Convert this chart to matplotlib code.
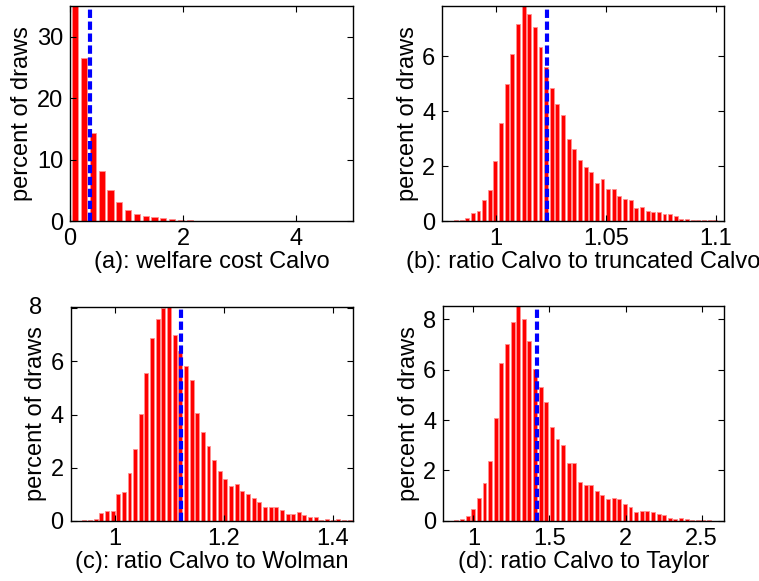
import matplotlib
matplotlib.use('Agg')
import matplotlib.pyplot as plt
import numpy as np

plt.rcParams['font.family'] = ['Liberation Sans', 'DejaVu Sans']
plt.rcParams['lines.scale_dashes'] = False

# (a) welfare cost Calvo: bin range, percent of draws per bin, marker
a_bins = (0.014, 4.85)
a_pct = [35.0, 26.6, 14.4, 8.18, 5.1, 3.09, 1.84, 1.19, 0.87, 0.65, 0.43, 0.38,
         0.22, 0.11, 0.07, 0.05, 0.04, 0.03, 0.02, 0.02, 0.01, 0.01, 0.01, 0.01,
         0.01, 0.01, 0.01, 0.01, 0.01, 0.01, 0.01]
a_mark = 0.36

# (b) ratio Calvo to truncated Calvo
b_bins = (0.9754, 1.1036)
b_pct = [0, 0, 0.02, 0.04, 0.11, 0.30, 0.38, 0.75, 1.13, 2.19, 3.56, 4.98, 6.08,
         7.16, 7.82, 7.53, 7.07, 6.34, 5.6, 4.85, 4.27, 3.87, 2.99, 2.63, 2.22,
         1.98, 1.78, 1.37, 1.53, 1.18, 1.18, 0.92, 0.80, 0.78, 0.47, 0.52, 0.36,
         0.34, 0.33, 0.27, 0.27, 0.18, 0.08, 0.06, 0.04, 0.05, 0.05, 0.02, 0.03, 0.01]
b_mark = 1.0232

# (c) ratio Calvo to Wolman
c_bins = (0.9182, 1.4362)
c_pct = [0, 0.01, 0.02, 0.04, 0.09, 0.30, 0.36, 0.36, 1.02, 1.09, 1.79, 2.72, 4.03,
         5.55, 6.88, 7.6, 8.0, 8.06, 7.0, 6.38, 5.83, 5.3, 4.05, 3.36, 2.83, 2.29,
         1.88, 1.59, 1.33, 1.40, 1.13, 1.02, 0.85, 0.70, 0.51, 0.51, 0.51, 0.40,
         0.28, 0.28, 0.33, 0.21, 0.14, 0.14, 0.05, 0.06, 0.05, 0.06, 0.03, 0.02]
c_mark = 1.1206

# (d) ratio Calvo to Taylor
d_bins = (0.797, 2.641)
d_pct = [0, 0, 0.02, 0.07, 0.21, 0.48, 0.9, 1.49, 2.39, 4.09, 6.24, 7.02, 7.88,
         8.53, 8.0, 7.13, 6.02, 5.31, 4.73, 3.74, 3.26, 3.01, 2.28, 2.28, 1.53,
         1.43, 1.44, 1.17, 1.02, 0.87, 0.91, 0.86, 0.69, 0.55, 0.37, 0.41, 0.40,
         0.37, 0.28, 0.22, 0.11, 0.09, 0.13, 0.07, 0.05, 0.05, 0.04, 0.02, 0.01, 0]
d_mark = 1.421

fig = plt.figure(figsize=(7.59, 5.81), dpi=100)


def panel(rect, bins, pct, mark, xlim, xticks, yticks, xlabel):
    ax = fig.add_axes(rect)
    n = len(pct)
    w = (bins[1] - bins[0]) / n
    centers = bins[0] + w * (np.arange(n) + 0.5)
    ax.bar(centers, pct, width=0.7 * w, color='#ff0000',
           edgecolor='#ff9090', linewidth=0.6)
    ax.axvline(mark, color='#0000ff', lw=3, dashes=(6, 2.6))
    ax.set_xlim(xlim)
    ax.set_ylim(0, max(pct))
    ax.set_xticks(xticks, labels=['%g' % t for t in xticks])
    ax.set_yticks(yticks, labels=['%g' % t for t in yticks])
    ax.tick_params(direction='in', top=True, right=True, length=4,
                   width=0.8, labelsize=17, pad=5)
    for s in ax.spines.values():
        s.set_linewidth(1.0)
    ax.set_xlabel(xlabel, fontsize=17, labelpad=1)
    ax.set_ylabel('percent of draws', fontsize=17, labelpad=2.5)
    return ax


panel([0.0922, 0.6196, 0.3725, 0.3701], a_bins, a_pct, a_mark, (0, 5),
      [0, 2, 4], [0, 10, 20, 30], '(a): welfare cost Calvo')
panel([0.5827, 0.6196, 0.3714, 0.3701], b_bins, b_pct, b_mark, (0.9756, 1.1038),
      [1, 1.05, 1.1], [0, 2, 4, 6], '(b): ratio Calvo to truncated Calvo')
ax_c = panel([0.0929, 0.1033, 0.3718, 0.3688], c_bins, c_pct, c_mark, (0.9187, 1.4367),
             [1, 1.2, 1.4], [0, 2, 4, 6, 8], '(c): ratio Calvo to Wolman')
panel([0.5841, 0.1033, 0.3698, 0.3706], d_bins, d_pct, d_mark, (0.803, 2.647),
      [1, 1.5, 2, 2.5], [0, 2, 4, 6, 8], '(d): ratio Calvo to Taylor')

# in the original the top "8" label of panel (c) sits further left
ax_c.set_yticks([0, 2, 4, 6, 8], labels=['0', '2', '4', '6', ''])
ax_c.annotate('8', xy=(0, 8), xycoords=('axes fraction', 'data'),
              xytext=(-28, 0), textcoords='offset pixels',
              ha='right', va='center', fontsize=17)

fig.savefig('out.png', dpi=100)
